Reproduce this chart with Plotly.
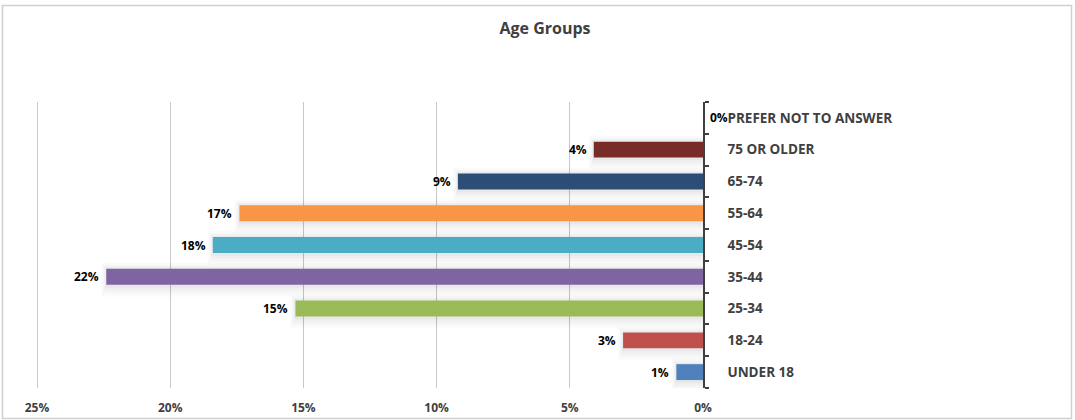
import numpy as np
import plotly.graph_objects as go

# Survey age bands (bottom to top) and the share of respondents in each
categories = ["UNDER 18", "18-24", "25-34", "35-44", "45-54",
              "55-64", "65-74", "75 OR OLDER", "PREFER NOT TO ANSWER"]
shares = [0.010, 0.030, 0.153, 0.224, 0.184, 0.174, 0.092, 0.041, 0.0]
bar_colors = ["#4F81BD", "#C0504D", "#9BBB59", "#8064A2", "#4BACC6",
              "#F79646", "#2C4D75", "#772C2A", "#4F81BD"]
x_ticks = [0.0, 0.05, 0.10, 0.15, 0.20, 0.25]

# Plot-area geometry in pixels
W, H = 1075, 420
ML, MR, MT, MB = 35, 372, 102, 32
PW, PH = W - ML - MR, H - MT - MB
X_MAX = 0.25 * PW / (PW - 2)          # leaves the 25% gridline just inside
PX_PER_UNIT_X = PW / X_MAX
PX_PER_CAT = PH / len(categories)
BAR_W = 0.5

FONT = "Open Sans"
v = np.array(shares)

fig = go.Figure()

# Soft drop shadow under each bar, built from several translucent layers
# (below, above, left extents in pixels, and opacity)
for below, above, left, alpha in [(12, 6, 5, 0.016), (9, 4, 3.5, 0.02),
                                  (6, 2.5, 2, 0.025), (3, 1, 1, 0.03)]:
    off = -BAR_W / 2 - below / PX_PER_CAT
    wid = BAR_W + (below + above) / PX_PER_CAT
    fig.add_trace(go.Bar(
        y=categories, x=np.where(v > 0, v + left / PX_PER_UNIT_X, 0),
        orientation="h", offset=off, width=wid,
        marker=dict(color=f"rgba(0,0,0,{alpha})", line=dict(width=0)),
        hoverinfo="skip", showlegend=False,
    ))

fig.add_trace(go.Bar(
    y=categories, x=shares, orientation="h",
    width=BAR_W, offset=-BAR_W / 2,
    marker=dict(color=bar_colors, line=dict(width=0)),
    showlegend=False,
))

# Value labels at the end of each bar
for cat, val in zip(categories, shares):
    fig.add_annotation(
        x=val, y=cat, xref="x", yref="y",
        text=f"{val:.0%}", showarrow=False,
        xanchor="right" if val > 0 else "left",
        xshift=-5 if val > 0 else 5,
        font=dict(family=FONT, size=12, color="#000000", weight="bold"),
    )

def px_x(p):
    return (p - ML) / PW

def px_y(p):
    return (MT + PH - p) / PH

# Outer chart frame
fig.add_shape(type="rect", xref="paper", yref="paper",
              x0=px_x(2.5), x1=px_x(1071.5), y0=px_y(418.5), y1=px_y(5.5),
              line=dict(color="#d0d0d0", width=1.5), layer="below")

fig.update_layout(
    width=W, height=H,
    margin=dict(l=ML, r=MR, t=MT, b=MB, autoexpand=False),
    paper_bgcolor="white", plot_bgcolor="white",
    barmode="overlay",
    title=dict(text="Age Groups", x=0.507, xanchor="center",
               y=1 - 28 / H, yanchor="middle", automargin=False,
               font=dict(family=FONT, size=16, color="#404040", weight="bold")),
    xaxis=dict(
        range=[X_MAX, 0], tickvals=x_ticks, tickformat=".0%",
        showgrid=True, gridcolor="#c8c8c8", gridwidth=1,
        zeroline=False, showline=False, ticks="",
        ticklabelstandoff=11, automargin=False,
        tickfont=dict(family=FONT, size=12, color="#404040", weight="bold"),
        fixedrange=True,
    ),
    yaxis=dict(
        side="right", categoryorder="array", categoryarray=categories,
        range=[-0.5, len(categories) - 0.5],
        showline=True, linecolor="#404040", linewidth=1.5,
        ticks="outside", tickson="boundaries", ticklen=4,
        tickcolor="#404040", tickwidth=1.5,
        ticklabelstandoff=20, automargin=False,
        showgrid=False, zeroline=False,
        tickfont=dict(family=FONT, size=13.5, color="#404040", weight="bold"),
        fixedrange=True,
    ),
    font=dict(family=FONT),
)

fig.write_html("out.html")
